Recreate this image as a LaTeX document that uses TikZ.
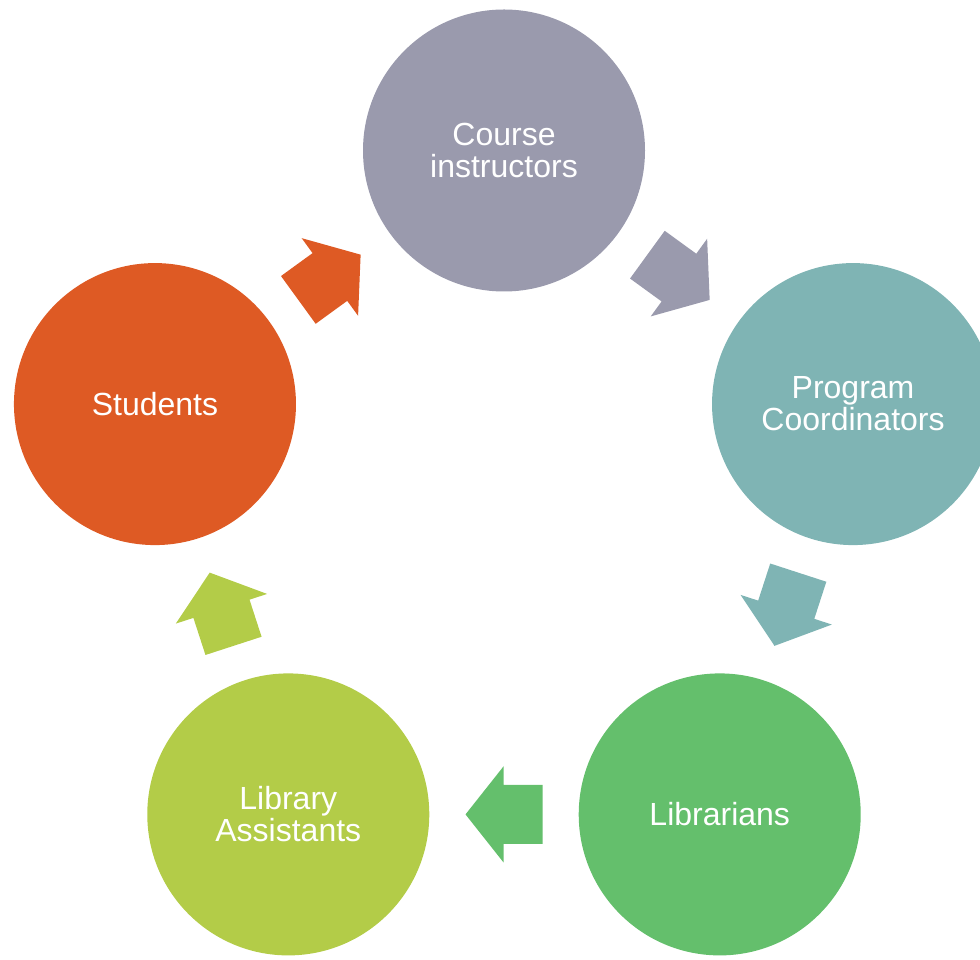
\documentclass[tikz,border=0pt]{standalone}
\usepackage{fontspec}
\setmainfont{Liberation Sans}
\usetikzlibrary{calc}
\definecolor{cgray}{RGB}{154,154,173}
\definecolor{cteal}{RGB}{127,180,180}
\definecolor{cgreen}{RGB}{100,191,108}
\definecolor{cyel}{RGB}{179,204,72}
\definecolor{corange}{RGB}{222,90,36}
\begin{document}
\begin{tikzpicture}[x=1pt,y=1pt,
  role/.style={circle, minimum size=282pt, inner sep=0pt, text=white, align=center,
    font=\fontsize{32}{32}\selectfont},
  blockarrow/.pic={
    \path[pic actions] (-38.5,-29.5) -- (0.5,-29.5) -- (0.5,-48) -- (38.5,0)
      -- (0.5,48) -- (0.5,29.5) -- (-38.5,29.5) -- cycle;
  }]
\useasboundingbox (0,0) rectangle (980,959);
\clip (0,0) rectangle (980,959);
\coordinate (c) at (504,441.5);
\node[role, fill=cgray] (ci) at ($(c)+(90:367)$) {Course\\instructors};
\node[role, fill=cteal] (pc) at ($(c)+(18:367)$) {Program\\Coordinators};
\node[role, fill=cgreen] (lb) at ($(c)+(-54:367)$) {Librarians};
\node[role, fill=cyel] (la) at ($(c)+(-126:367)$) {Library\\Assistants};
\node[role, fill=corange] (st) at ($(c)+(162:367)$) {Students};
\pic[fill=cgray, rotate=-36] at ($(ci)!0.5!(pc)$) {blockarrow};
\pic[fill=cteal, rotate=-108] at ($(pc)!0.5!(lb)$) {blockarrow};
\pic[fill=cgreen, rotate=180] at ($(lb)!0.5!(la)$) {blockarrow};
\pic[fill=cyel, rotate=108] at ($(la)!0.5!(st)$) {blockarrow};
\pic[fill=corange, rotate=36] at ($(st)!0.5!(ci)$) {blockarrow};
\end{tikzpicture}
\end{document}
